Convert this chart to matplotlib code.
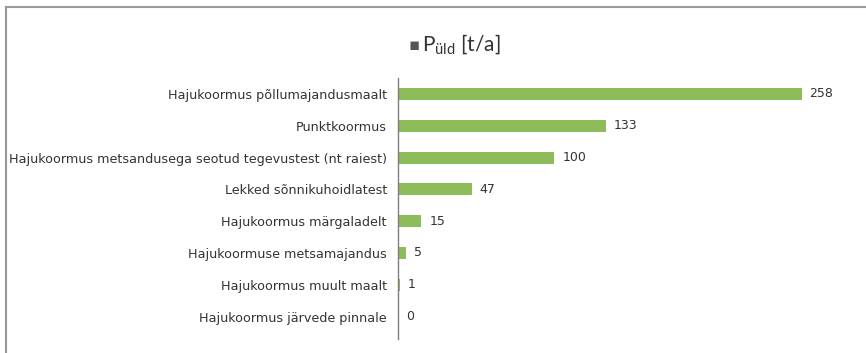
import matplotlib.pyplot as plt
from matplotlib.lines import Line2D

plt.rcParams['font.family'] = ['DejaVu Sans']

categories = [
    'Hajukoormus põllumajandusmaalt',
    'Punktkoormus',
    'Hajukoormus metsandusega seotud tegevustest (nt raiest)',
    'Lekked sõnnikuhoidlatest',
    'Hajukoormus märgaladelt',
    'Hajukoormuse metsamajandus',
    'Hajukoormus muult maalt',
    'Hajukoormus järvede pinnale',
]
p_total = [258, 133, 100, 47, 15, 5, 1, 0]

bar_color = '#8fbc5a'

fig = plt.figure(figsize=(8.66, 3.53), dpi=100)
ax = fig.add_axes([0.4596, 0.04, 0.531, 0.739])

ypos = list(range(len(categories)))
ax.barh(ypos, p_total, height=0.38, color=bar_color)
ax.set_ylim(len(categories) - 0.3, -0.5)
ax.set_xlim(0, 294)

for y, v in zip(ypos, p_total):
    ax.text(v + 5, y, str(v), va='center', ha='left', fontsize=9, color='#333333')

ax.set_yticks(ypos)
ax.set_yticklabels(categories, fontsize=9.2, color='#333333')
ax.tick_params(axis='y', length=0, pad=8)
ax.set_xticks([])
for side in ['top', 'right', 'bottom']:
    ax.spines[side].set_visible(False)
ax.spines['left'].set_color('#7f7f7f')
ax.spines['left'].set_linewidth(1.0)

# title with legend key
fig.text(0.478, 0.872, '\u25aa', fontsize=12, color='#555555', ha='center', va='center')
fig.text(0.487, 0.872, r'P$_{\mathregular{üld}}$ [t/a]', fontsize=15, color='#333333',
         ha='left', va='center', family='Lato')

# outer frame (top and left edges)
fig.add_artist(Line2D([0.007, 0.999], [0.98, 0.98], color='#9a9a9a', lw=1.5,
                      transform=fig.transFigure))
fig.add_artist(Line2D([0.007, 0.007], [0.0, 0.98], color='#9a9a9a', lw=1.5,
                      transform=fig.transFigure))

fig.savefig('out.png', dpi=100)
